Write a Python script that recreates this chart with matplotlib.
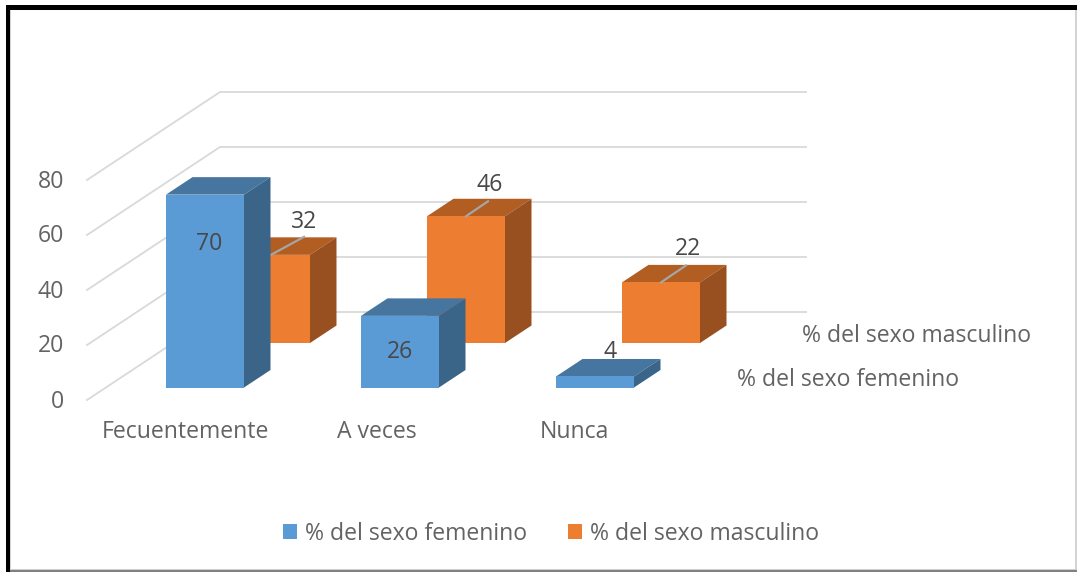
import matplotlib
matplotlib.use("Agg")
import matplotlib.pyplot as plt
from matplotlib.patches import Polygon, Rectangle, Patch

categories = ["Fecuentemente", "A veces", "Nunca"]
series_names = ["% del sexo femenino", "% del sexo masculino"]
femenino = [70, 26, 4]
masculino = [32, 46, 22]
y_ticks = [0, 20, 40, 60, 80]

FONT = "Open Sans"
FS = 16.6
TXT = "#636363"
LBL = "#484848"
GRID = "#d9d9d9"
C_F = ("#5B9BD5", "#4675A0", "#3A6488")
C_M = ("#ED7D31", "#B25D22", "#985020")

W, H = 1077, 572
fig = plt.figure(figsize=(W / 100, H / 100), dpi=100, facecolor="white")
ax = fig.add_axes([0, 0, 1, 1])
ax.set_xlim(0, W)
ax.set_ylim(H, 0)
ax.axis("off")

# projection of the 3-D chart onto the page
UNIT = 2.755           # px per value unit
BAR_W = 78
STEP = 195
DX, DY = 26.5, -17.5   # bar depth
BASE_F = 387.5
BASE_M = 343
X_F = 166
X_M = 232


def yval(base, v):
    return base - v * UNIT


def bar(x, base, v, cols, z):
    top = yval(base, v)
    r = x + BAR_W
    ax.add_patch(Polygon([(x, top), (x + DX, top + DY), (r + DX, top + DY), (r, top)],
                         fc=cols[1], ec="none", zorder=z))
    ax.add_patch(Polygon([(r, top), (r + DX, top + DY), (r + DX, base + DY), (r, base)],
                         fc=cols[2], ec="none", zorder=z))
    ax.add_patch(Rectangle((x, top), BAR_W, base - top, fc=cols[0], ec="none", zorder=z + 0.1))


# frame
ax.add_patch(Rectangle((10, 9), 1066, 561, fc="white", ec="#d4d4d4", lw=1.5, zorder=0))
ax.plot([10, 1077], [570.5, 570.5], color="#808080", lw=1.5, zorder=1)
ax.add_patch(Rectangle((5.5, 5), 1072, 4.5, fc="black", ec="none", zorder=2))
ax.add_patch(Rectangle((5.5, 5), 4.8, 567, fc="black", ec="none", zorder=2))

# gridlines: side wall and back wall
FRONT_0, BACK_0 = 400, 312
WALL_UNIT = 2.75
for t in y_ticks:
    ax.plot([87, 220, 806],
            [FRONT_0 - t * WALL_UNIT, BACK_0 - t * WALL_UNIT, BACK_0 - t * WALL_UNIT],
            color=GRID, lw=1.3, zorder=1, solid_joinstyle="miter")
    ax.text(64, FRONT_0 - t * WALL_UNIT + 1.5, str(t), ha="right", va="center",
            fontsize=FS, color=TXT, family=FONT)

# bars: back row first
for i, v in enumerate(masculino):
    bar(X_M + i * STEP, BASE_M, v, C_M, 3)
for i, v in enumerate(femenino):
    bar(X_F + i * STEP, BASE_F, v, C_F, 5)

# leader lines and data labels
lead_dx = [33, 22, 25]
lead_dy = [-18, -15, -17]
lab_dx = [33, 24, 27]
lab_dy = [-33, -31, -33]
for i, v in enumerate(masculino):
    x0 = X_M + i * STEP + BAR_W / 2
    y0 = yval(BASE_M, v)
    ax.plot([x0, x0 + lead_dx[i]], [y0, y0 + lead_dy[i]], color="#a6a6a6", lw=1.6, zorder=4)
    ax.text(x0 + lab_dx[i], y0 + lab_dy[i], str(v), ha="center", va="center",
            fontsize=FS, color=LBL, family=FONT, zorder=6)
fem_label_y = [243.5, 352.5, 351.5]
fem_label_dx = [43, 39, 54]
for i, v in enumerate(femenino):
    ax.text(X_F + i * STEP + fem_label_dx[i], fem_label_y[i], str(v), ha="center", va="center",
            fontsize=FS, color=LBL, family=FONT, zorder=6)

# category labels
for i, c in enumerate(categories):
    cx = [185, 377, 574][i]
    ax.text(cx, 431.5, c, ha="center", va="center", fontsize=FS, color=TXT, family=FONT)

# depth axis labels
ax.text(802, 335.5, series_names[1], ha="left", va="center", fontsize=FS, color=TXT, family=FONT)
ax.text(737, 380.5, series_names[0], ha="left", va="center", fontsize=FS, color=TXT, family=FONT)

# legend
handles = [Patch(fc=C_F[0], ec="none"), Patch(fc=C_M[0], ec="none")]
leg = ax.legend(handles, series_names, loc="center", bbox_to_anchor=(551 / W, 1 - 533.5 / H),
                bbox_transform=ax.transAxes, ncol=2, frameon=False,
                prop={"family": FONT, "size": FS}, labelcolor=TXT,
                handlelength=0.62, handleheight=0.62, handletextpad=0.32, columnspacing=1.78)

fig.savefig("out.png", dpi=100, facecolor="white")
